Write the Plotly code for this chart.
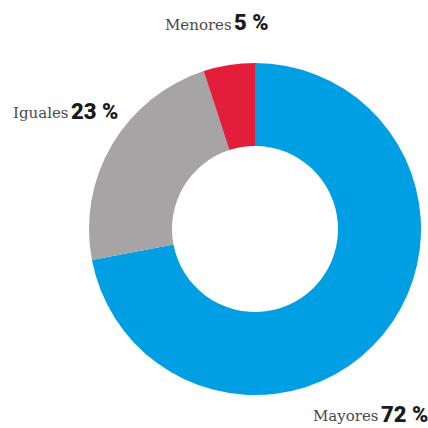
import plotly.graph_objects as go

labels = ["Mayores", "Iguales", "Menores"]
values = [72, 23, 5]
colors = ["#009FE3", "#A6A4A5", "#E31E3A"]

W, H = 428, 428
cx, cy, r = 255, 229, 166

fig = go.Figure(go.Pie(
    labels=labels,
    values=values,
    hole=0.5,
    sort=False,
    direction="clockwise",
    rotation=0,
    marker=dict(colors=colors, line=dict(width=0)),
    textinfo="none",
    hoverinfo="label+percent",
    domain=dict(x=[(cx - r) / W, (cx + r) / W],
                y=[(H - cy - r) / H, (H - cy + r) / H]),
))

# split point between the name and the percentage, in pixels
label_pos = {"Menores": (234, 25), "Iguales": (71, 113), "Mayores": (381, 416)}
name_font = dict(family="DejaVu Serif", size=15, color="#4a4a4a")
value_font = dict(family="Roboto", size=22, color="#1a1a1a", weight=900)

for name, v in zip(labels, values):
    x, y = label_pos[name]
    fig.add_annotation(
        x=x / W, y=1 - y / H, xref="paper", yref="paper",
        xanchor="right", yanchor="middle", showarrow=False,
        text=name, font=name_font, xshift=0,
    )
    fig.add_annotation(
        x=x / W, y=1 - (y - 2) / H, xref="paper", yref="paper",
        xanchor="left", yanchor="middle", showarrow=False,
        text=f"{v} %", font=value_font, xshift=-2,
    )

fig.update_layout(
    width=W, height=H,
    margin=dict(l=0, r=0, t=0, b=0),
    showlegend=False,
    paper_bgcolor="white",
    plot_bgcolor="white",
)

fig.write_html("out.html", config={"displayModeBar": False},
               post_script="document.body.style.margin='0';")
